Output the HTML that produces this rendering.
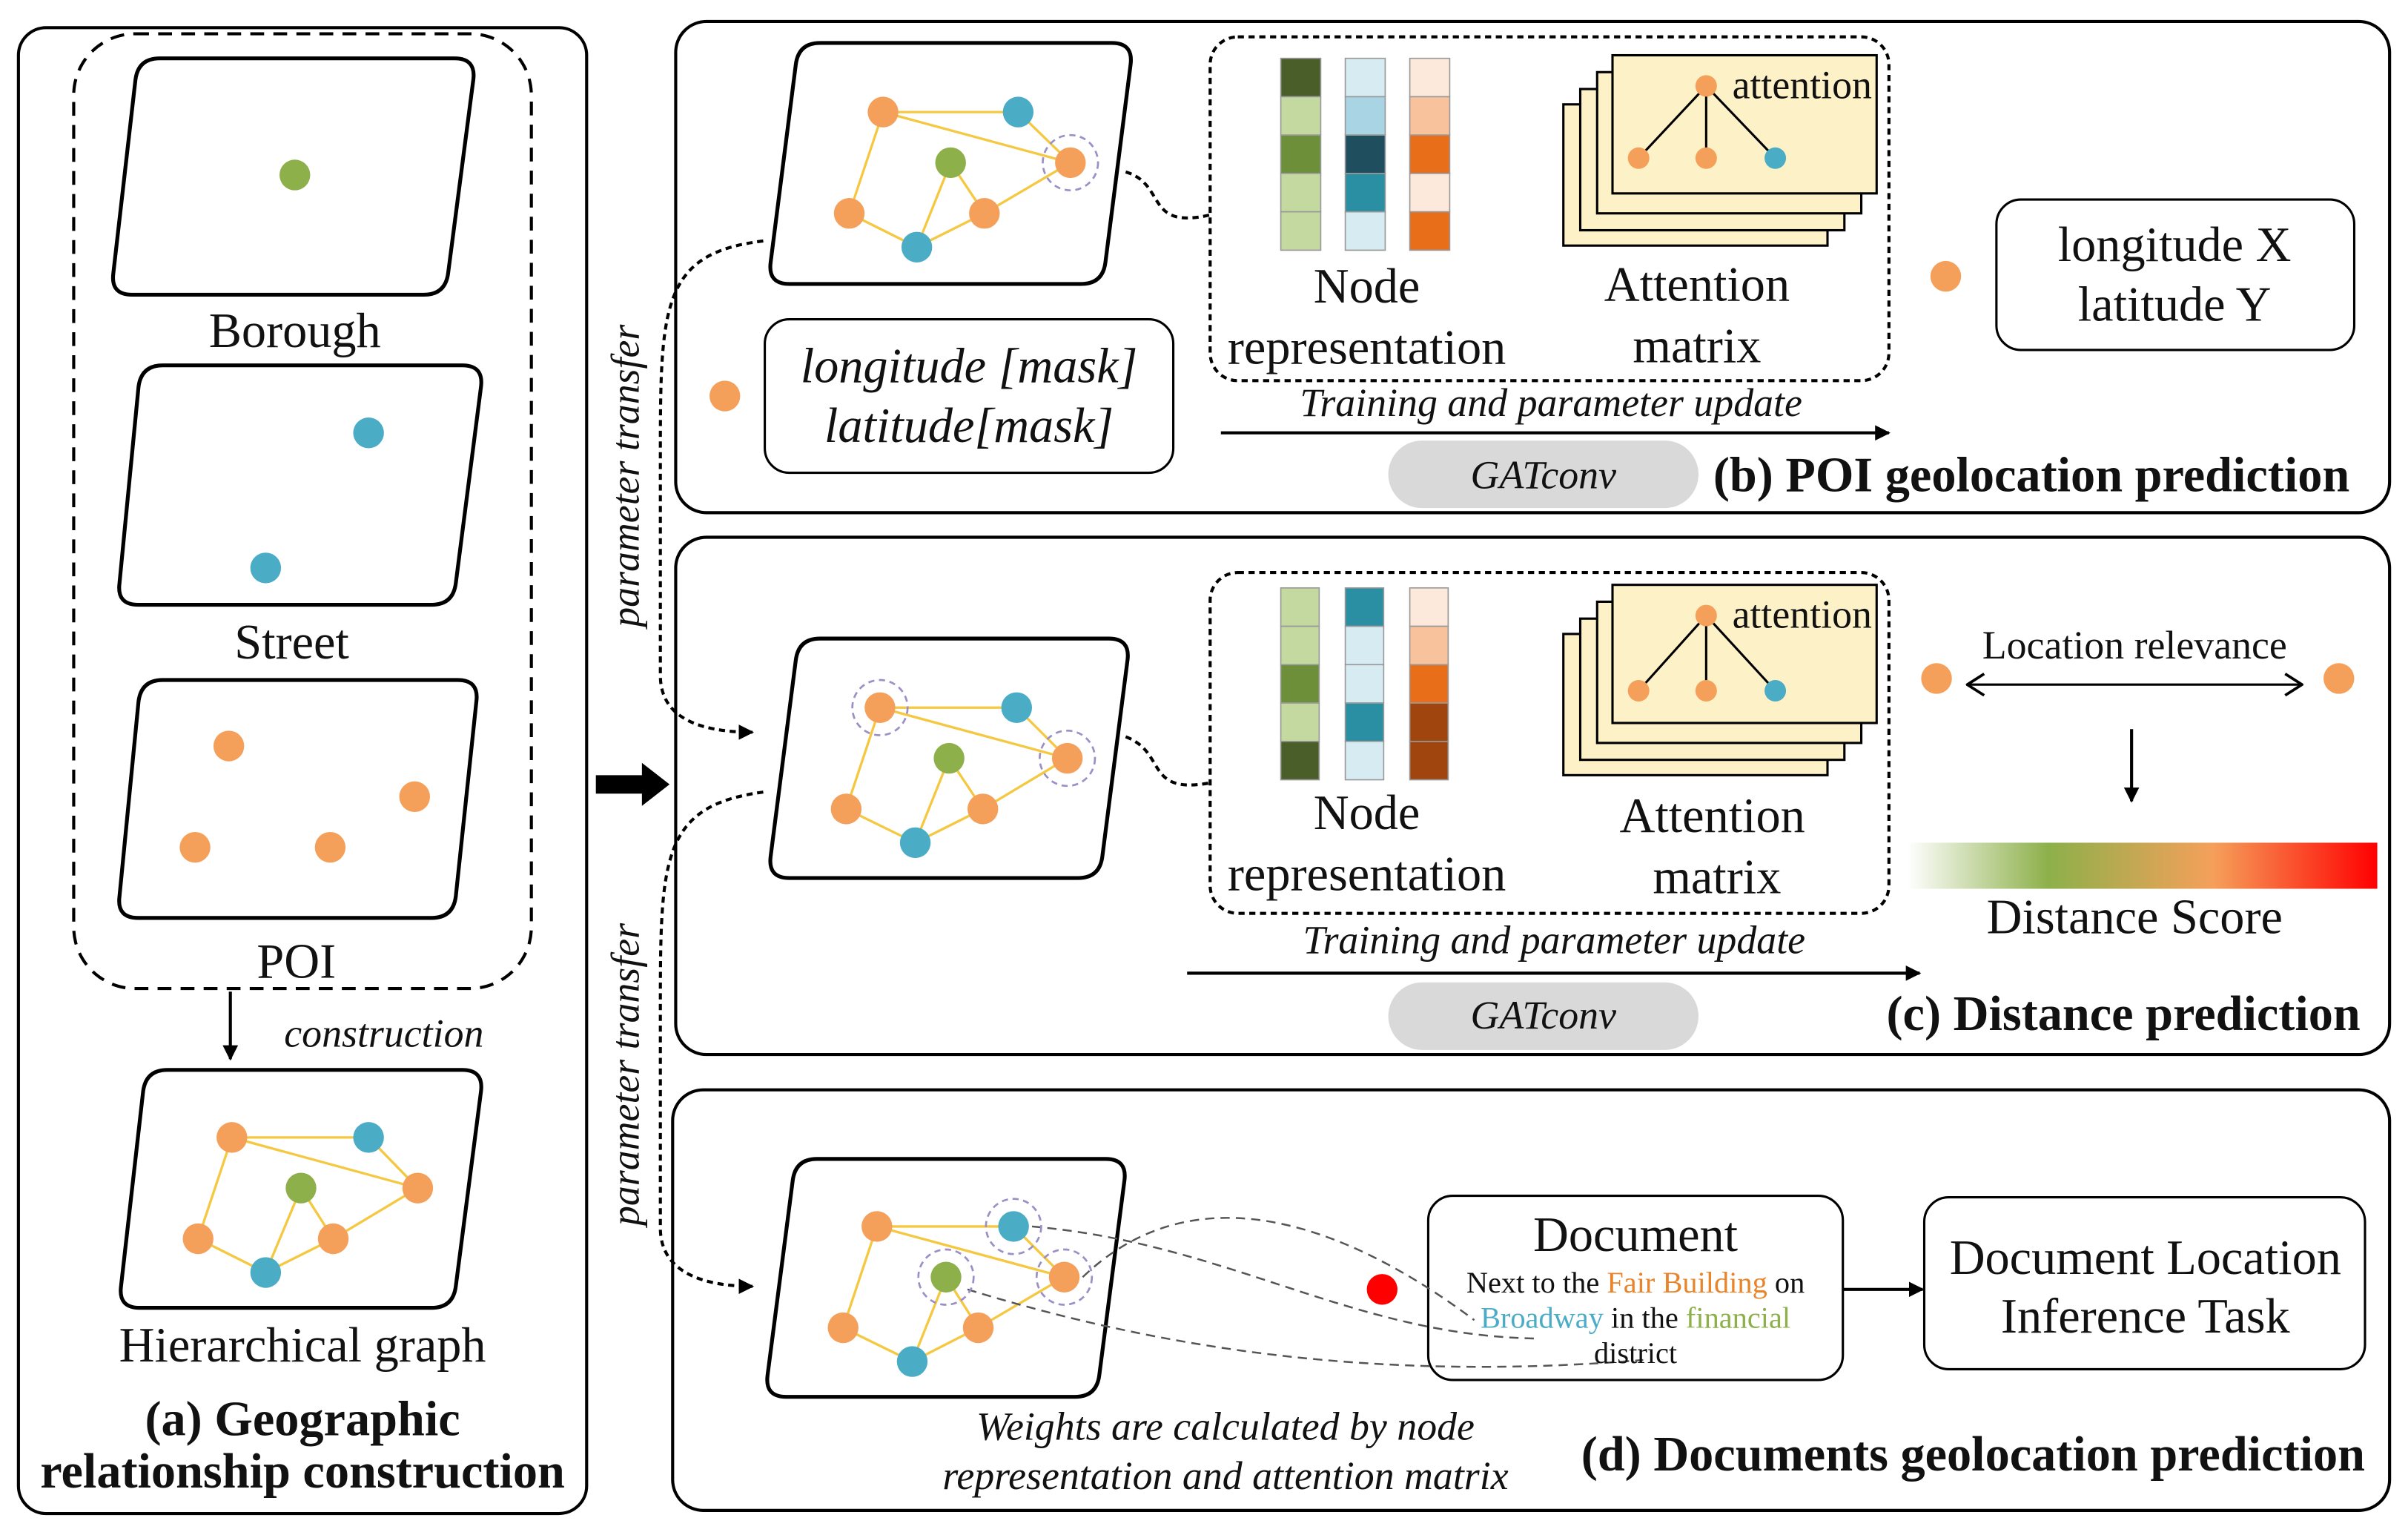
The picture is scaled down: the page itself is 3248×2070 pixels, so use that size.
<!DOCTYPE html>
<html><head><meta charset="utf-8"><style>
html,body{margin:0;padding:0;background:#fff}
svg{display:block}
text{font-family:"Liberation Serif",serif;fill:#111}
.it{font-style:italic}
.b{font-weight:bold}
</style></head><body>
<svg width="3248" height="2070" viewBox="0 0 1568 1000" preserveAspectRatio="none">
<defs>
<marker id="ah" markerWidth="10" markerHeight="10" refX="9" refY="5" orient="auto" markerUnits="userSpaceOnUse"><path d="M0,0 L10,5 L0,10 z" fill="#000"/></marker>
<linearGradient id="gr" x1="0" x2="1"><stop offset="0" stop-color="#fff"/><stop offset="0.3" stop-color="#8db04a"/><stop offset="0.65" stop-color="#f5a05a"/><stop offset="1" stop-color="#ff0000"/></linearGradient>
</defs>
<g fill="none" stroke="#000" stroke-width="2" stroke-linejoin="round">
<rect x="12" y="18" width="370" height="968" rx="18"/>
<rect x="48" y="22" width="298" height="622" rx="40" stroke-dasharray="9,6"/>
<g stroke-width="2.5">
<path d="M104,38 L296,38 Q310,38 308.2,52 L291.8,178 Q290,192 276,192 L86,192 Q72,192 73.8,178 L88.2,52 Q90,38 104,38 Z"/>
<path d="M106,238 L301,238 Q315,238 313.2,252 L296.8,380 Q295,394 281,394 L90,394 Q76,394 77.8,380 L90.2,252 Q92,238 106,238 Z"/>
<path d="M106,443 L298,443 Q312,443 310.2,457 L296.8,584 Q295,598 281,598 L90,598 Q76,598 77.8,584 L90.2,457 Q92,443 106,443 Z"/>
<path d="M109,697 L301,697 Q315,697 313.2,711 L296.8,838 Q295,852 281,852 L91,852 Q77,852 78.8,838 L93.2,711 Q95,697 109,697 Z"/>
<path d="M534,28 L724,28 Q738,28 736.2,42 L719.8,171 Q718,185 704,185 L514,185 Q500,185 501.8,171 L518.2,42 Q520,28 534,28 Z"/>
<path d="M534,416 L722,416 Q736,416 734.2,430 L717.8,558 Q716,572 702,572 L514,572 Q500,572 501.8,558 L518.2,430 Q520,416 534,416 Z"/>
<path d="M532,755 L720,755 Q734,755 732.2,769 L715.8,896 Q714,910 700,910 L512,910 Q498,910 499.8,896 L516.2,769 Q518,755 532,755 Z"/>
</g>
<line x1="150" y1="646" x2="150" y2="690" marker-end="url(#ah)"/>
<rect x="440" y="14" width="1116" height="320" rx="20"/>
<rect x="440" y="350" width="1116" height="337" rx="20"/>
<rect x="438" y="710" width="1118" height="274" rx="20"/>
<rect x="788" y="24" width="442" height="224" rx="18" stroke-dasharray="4,3"/>
<rect x="788" y="373" width="442" height="222" rx="18" stroke-dasharray="4,3"/>
<rect x="1300" y="130" width="233" height="98" rx="16" stroke-width="1.5"/>
<rect x="498" y="208" width="266" height="100" rx="16" stroke-width="1.5"/>
<rect x="930" y="779" width="270" height="120" rx="16" stroke-width="1.5"/>
<rect x="1253" y="780" width="287" height="112" rx="16" stroke-width="1.5"/>
<line x1="795" y1="282" x2="1230" y2="282" marker-end="url(#ah)"/>
<line x1="773" y1="634" x2="1250" y2="634" marker-end="url(#ah)"/>
<line x1="1200" y1="840" x2="1252" y2="840" marker-end="url(#ah)"/>
<line x1="1388" y1="475" x2="1388" y2="522" marker-end="url(#ah)"/>
<line x1="1282" y1="446" x2="1498" y2="446" stroke-width="1.5"/>
<path d="M1292,439 L1281,446 L1292,453 M1488,439 L1499,446 L1488,453" stroke-width="1.8"/>
<path d="M733,112 C760,120 745,150 788,140" stroke-dasharray="4,3"/>
<path d="M733,480 C760,490 745,518 788,510" stroke-dasharray="4,3"/>
<path d="M497,157 C430,165 430,200 430,300 L430,440 C430,470 460,477 490,477" stroke-dasharray="4,3" marker-end="url(#ah)"/>
<path d="M497,516 C430,525 430,560 430,660 L430,800 C430,830 460,838 490,838" stroke-dasharray="4,3" marker-end="url(#ah)"/>
</g>
<path d="M388,505 L418,505 L418,497 L436,511 L418,525 L418,517 L388,517 z" fill="#000"/>
<rect x="1242" y="549" width="306" height="30" fill="url(#gr)"/>
<rect x="904" y="287" width="202" height="44" rx="22" fill="#d9d9d9"/>
<rect x="904" y="640" width="202" height="44" rx="22" fill="#d9d9d9"/>
<g stroke="#f5c842" stroke-width="1.6" fill="none">
<path d="M575,73 L663,73 L697,106 M575,73 L553,139 L597,161 L641,139 L697,106 M619,106 L597,161 M575,73 L697,106 M619,106 L641,139"/>
<path d="M573,461 L662,461 L695,494 M573,461 L551,527 L596,549 L640,527 L695,494 M618,494 L596,549 M573,461 L695,494 M618,494 L640,527"/>
<path d="M571,799 L660,799 L693,832 M571,799 L549,865 L594,887 L637,865 L693,832 M616,832 L594,887 M571,799 L693,832 M616,832 L637,865"/>
<path d="M151,741 L240,741 L272,774 M151,741 L129,807 L173,829 L217,807 L272,774 M196,774 L173,829 M151,741 L272,774 M196,774 L217,807"/>
</g>
<g fill="none" stroke="#555" stroke-width="1.2" stroke-dasharray="6,4">
<path d="M672,799 C800,810 880,870 1000,872"/>
<path d="M630,840 C760,880 900,900 1070,886"/>
<path d="M705,832 C780,760 880,800 960,860"/>
</g>
<g fill="none" stroke="#9b8fc6" stroke-width="1.3" stroke-dasharray="4,3">
<circle cx="697" cy="106" r="18"/><circle cx="573" cy="461" r="18"/><circle cx="695" cy="494" r="18"/>
<circle cx="660" cy="799" r="18"/><circle cx="616" cy="832" r="18"/><circle cx="693" cy="832" r="18"/>
</g>
<g>
<circle cx="192" cy="114" r="10" fill="#8db04a"/>
<circle cx="240" cy="282" r="10" fill="#4bacc6"/><circle cx="173" cy="370" r="10" fill="#4bacc6"/>
<g fill="#f5a05a"><circle cx="149" cy="486" r="10"/><circle cx="270" cy="519" r="10"/><circle cx="127" cy="552" r="10"/><circle cx="215" cy="552" r="10"/>
<circle cx="151" cy="741" r="10"/><circle cx="272" cy="774" r="10"/><circle cx="129" cy="807" r="10"/><circle cx="217" cy="807" r="10"/>
<circle cx="575" cy="73" r="10"/><circle cx="697" cy="106" r="10"/><circle cx="553" cy="139" r="10"/><circle cx="641" cy="139" r="10"/>
<circle cx="573" cy="461" r="10"/><circle cx="695" cy="494" r="10"/><circle cx="551" cy="527" r="10"/><circle cx="640" cy="527" r="10"/>
<circle cx="571" cy="799" r="10"/><circle cx="693" cy="832" r="10"/><circle cx="549" cy="865" r="10"/><circle cx="637" cy="865" r="10"/>
<circle cx="1267" cy="180" r="10"/><circle cx="472" cy="258" r="10"/><circle cx="1261" cy="442" r="10"/><circle cx="1523" cy="442" r="10"/></g>
<g fill="#4bacc6"><circle cx="240" cy="741" r="10"/><circle cx="173" cy="829" r="10"/><circle cx="663" cy="73" r="10"/><circle cx="597" cy="161" r="10"/>
<circle cx="662" cy="461" r="10"/><circle cx="596" cy="549" r="10"/><circle cx="660" cy="799" r="10"/><circle cx="594" cy="887" r="10"/></g>
<g fill="#8db04a"><circle cx="196" cy="774" r="10"/><circle cx="619" cy="106" r="10"/><circle cx="618" cy="494" r="10"/><circle cx="616" cy="832" r="10"/></g>
<circle cx="900" cy="840" r="10" fill="#ff0000"/>
</g>
<g stroke="#999" stroke-width="0.8">
<rect x="834" y="38" width="26" height="25" fill="#4a5e2a"/><rect x="834" y="63" width="26" height="25" fill="#c4d9a0"/><rect x="834" y="88" width="26" height="25" fill="#6e8f3a"/><rect x="834" y="113" width="26" height="25" fill="#c4d9a0"/><rect x="834" y="138" width="26" height="25" fill="#c4d9a0"/>
<rect x="876" y="38" width="26" height="25" fill="#d6ecf2"/><rect x="876" y="63" width="26" height="25" fill="#a8d4e4"/><rect x="876" y="88" width="26" height="25" fill="#1f4e5f"/><rect x="876" y="113" width="26" height="25" fill="#2b8fa3"/><rect x="876" y="138" width="26" height="25" fill="#d6ecf2"/>
<rect x="918" y="38" width="26" height="25" fill="#fde8dc"/><rect x="918" y="63" width="26" height="25" fill="#f8c29c"/><rect x="918" y="88" width="26" height="25" fill="#e86e1a"/><rect x="918" y="113" width="26" height="25" fill="#fde8dc"/><rect x="918" y="138" width="26" height="25" fill="#e86e1a"/>
<rect x="834" y="383" width="25" height="25" fill="#c4d9a0"/><rect x="834" y="408" width="25" height="25" fill="#c4d9a0"/><rect x="834" y="433" width="25" height="25" fill="#6e8f3a"/><rect x="834" y="458" width="25" height="25" fill="#c4d9a0"/><rect x="834" y="483" width="25" height="25" fill="#4a5e2a"/>
<rect x="876" y="383" width="25" height="25" fill="#2b8fa3"/><rect x="876" y="408" width="25" height="25" fill="#d6ecf2"/><rect x="876" y="433" width="25" height="25" fill="#d6ecf2"/><rect x="876" y="458" width="25" height="25" fill="#2b8fa3"/><rect x="876" y="483" width="25" height="25" fill="#d6ecf2"/>
<rect x="918" y="383" width="25" height="25" fill="#fde8dc"/><rect x="918" y="408" width="25" height="25" fill="#f8c29c"/><rect x="918" y="433" width="25" height="25" fill="#e86e1a"/><rect x="918" y="458" width="25" height="25" fill="#a0450e"/><rect x="918" y="483" width="25" height="25" fill="#a0450e"/>
</g>
<g fill="#fdf1c7" stroke="#000" stroke-width="1.5">
<rect x="1018" y="68" width="172" height="92"/><rect x="1029" y="58" width="172" height="92"/><rect x="1040" y="47" width="172" height="92"/><rect x="1050" y="36" width="172" height="90"/>
<rect x="1018" y="413" width="172" height="92"/><rect x="1029" y="403" width="172" height="92"/><rect x="1040" y="392" width="172" height="92"/><rect x="1050" y="381" width="172" height="90"/>
</g>
<g stroke="#000" stroke-width="1.5">
<path d="M1111,56 L1067,103 M1111,56 L1111,103 M1111,56 L1156,103"/>
<path d="M1111,401 L1067,450 M1111,401 L1111,450 M1111,401 L1156,450"/>
</g>
<g fill="#f5a05a"><circle cx="1111" cy="56" r="7"/><circle cx="1067" cy="103" r="7"/><circle cx="1111" cy="103" r="7"/><circle cx="1111" cy="401" r="7"/><circle cx="1067" cy="450" r="7"/><circle cx="1111" cy="450" r="7"/></g>
<g fill="#4bacc6"><circle cx="1156" cy="103" r="7"/><circle cx="1156" cy="450" r="7"/></g>
<g font-size="32" text-anchor="middle">
<text x="192" y="226">Borough</text><text x="190" y="429">Street</text><text x="193" y="637">POI</text>
<text x="197" y="887">Hierarchical graph</text>
<text x="197" y="935" class="b">(a) Geographic</text><text x="197" y="969" class="b">relationship construction</text>
<text x="890" y="197">Node</text><text x="890" y="237">representation</text>
<text x="1105" y="196">Attention</text><text x="1105" y="236">matrix</text>
<text x="1416" y="170">longitude X</text><text x="1416" y="209">latitude Y</text>
<text x="631" y="249" class="it">longitude [mask]</text><text x="631" y="288" class="it">latitude[mask]</text>
<text x="890" y="540">Node</text><text x="890" y="580">representation</text>
<text x="1115" y="542">Attention</text><text x="1118" y="582">matrix</text>
<text x="1390" y="608">Distance Score</text>
<text x="1065" y="815">Document</text>
<text x="1397" y="830">Document Location</text><text x="1397" y="868">Inference Task</text>
</g>
<g font-size="32" text-anchor="end">
<text x="1530" y="320" class="b">(b) POI geolocation prediction</text>
<text x="1537" y="671" class="b">(c) Distance prediction</text>
<text x="1540" y="958" class="b">(d) Documents geolocation prediction</text>
</g>
<g font-size="26" text-anchor="middle">
<text x="250" y="682" class="it">construction</text>
<text x="1010" y="271" class="it">Training and parameter update</text>
<text x="1012" y="621" class="it">Training and parameter update</text>
<text x="1005" y="318" class="it" fill="#333">GATconv</text>
<text x="1005" y="670" class="it" fill="#333">GATconv</text>
<text x="798" y="938" class="it">Weights are calculated by node</text>
<text x="798" y="970" class="it">representation and attention matrix</text>
<text transform="translate(416,310) rotate(-90)" class="it">parameter transfer</text>
<text transform="translate(416,700) rotate(-90)" class="it">parameter transfer</text>
</g>
<g font-size="26">
<text x="1128" y="64">attention</text><text x="1128" y="409">attention</text>
<text x="1390" y="429" text-anchor="middle">Location relevance</text>
</g>
<g font-size="19.5" text-anchor="middle">
<text x="1065" y="842">Next to the <tspan fill="#e8842a">Fair Building</tspan> on</text>
<text x="1065" y="865"><tspan fill="#4bacc6">Broadway</tspan> in the <tspan fill="#8db04a">financial</tspan></text>
<text x="1065" y="888" fill="#8db04a">district</text>
</g>
</svg>
</body></html>
